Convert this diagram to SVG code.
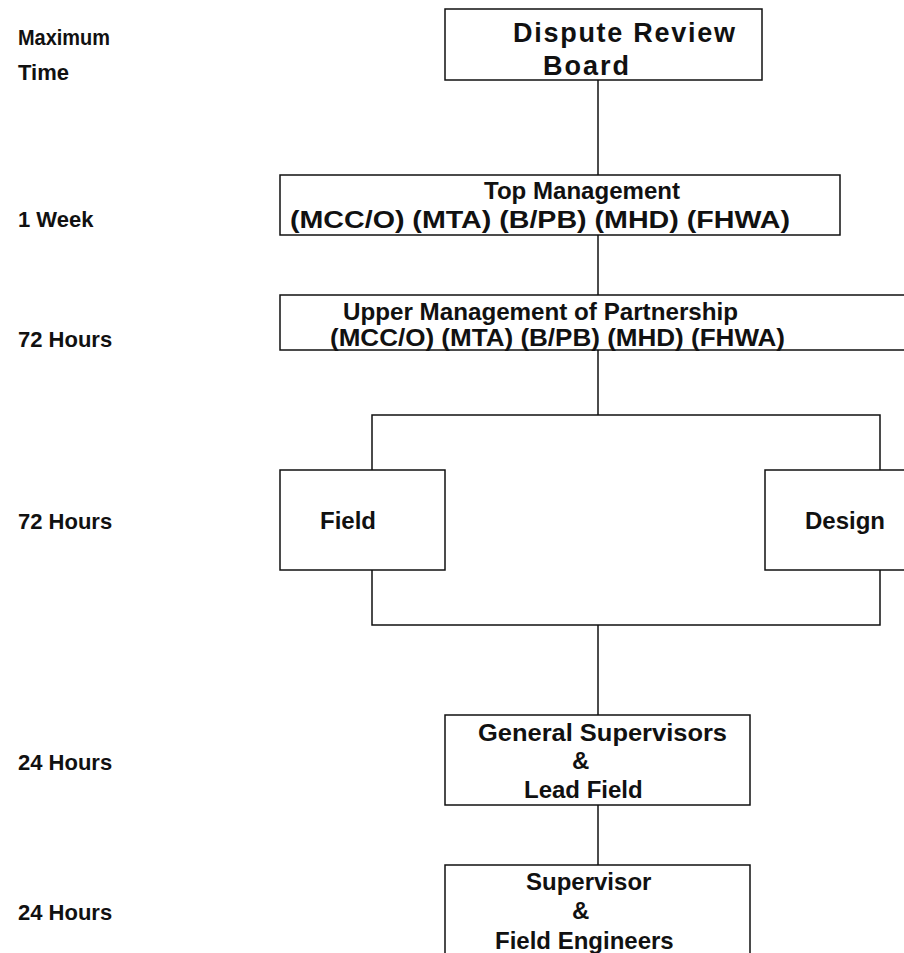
<svg xmlns="http://www.w3.org/2000/svg" width="904" height="953" viewBox="0 0 904 953">
<style>
.box{fill:#fff;stroke:#111;stroke-width:1.5}
.ln{fill:none;stroke:#111;stroke-width:1.5}
text{font-family:"Liberation Sans",Arial,sans-serif;font-weight:bold;fill:#111}
.lbl{font-size:22px}
.t{font-size:24px}
.big{font-size:27px}
</style>
<rect width="904" height="953" fill="#fff"/>
<g id="time-labels">
<text class="lbl" x="18" y="45" textLength="92" lengthAdjust="spacingAndGlyphs">Maximum</text>
<text class="lbl" x="18" y="80">Time</text>
<text class="lbl" x="18" y="227">1 Week</text>
<text class="lbl" x="18" y="347">72 Hours</text>
<text class="lbl" x="18" y="529">72 Hours</text>
<text class="lbl" x="18" y="770">24 Hours</text>
<text class="lbl" x="18" y="920">24 Hours</text>
</g>
<g id="connectors">
<line class="ln" x1="598" y1="80" x2="598" y2="175"/>
<line class="ln" x1="598" y1="235" x2="598" y2="295"/>
<line class="ln" x1="598" y1="350" x2="598" y2="415"/>
<polyline class="ln" points="372,470 372,415 880,415 880,470"/>
<polyline class="ln" points="372,570 372,625 880,625 880,570"/>
<line class="ln" x1="598" y1="625" x2="598" y2="715"/>
<line class="ln" x1="598" y1="805" x2="598" y2="865"/>
</g>
<g id="dispute-review-board">
<rect class="box" x="445" y="9" width="317" height="71"/>
<text class="big" x="513" y="42" textLength="222" lengthAdjust="spacing">Dispute Review</text>
<text class="big" x="543" y="75" textLength="86" lengthAdjust="spacing">Board</text>
</g>
<g id="top-management">
<rect class="box" x="280" y="175" width="560" height="60"/>
<text class="t" x="484" y="199" textLength="196" lengthAdjust="spacingAndGlyphs">Top Management</text>
<text class="t" x="290" y="228" textLength="500" lengthAdjust="spacingAndGlyphs">(MCC/O) (MTA) (B/PB) (MHD) (FHWA)</text>
</g>
<g id="upper-management">
<rect class="box" x="280" y="295" width="640" height="55"/>
<text class="t" x="343" y="320" textLength="395" lengthAdjust="spacingAndGlyphs">Upper Management of Partnership</text>
<text class="t" x="330" y="346" textLength="455" lengthAdjust="spacingAndGlyphs">(MCC/O) (MTA) (B/PB) (MHD) (FHWA)</text>
</g>
<g id="field">
<rect class="box" x="280" y="470" width="165" height="100"/>
<text class="t" x="320" y="529">Field</text>
</g>
<g id="design">
<rect class="box" x="765" y="470" width="150" height="100"/>
<text class="t" x="805" y="529">Design</text>
</g>
<g id="general-supervisors">
<rect class="box" x="445" y="715" width="305" height="90"/>
<text class="t" x="478" y="741" textLength="249" lengthAdjust="spacingAndGlyphs">General Supervisors</text>
<text class="t" x="572" y="769">&amp;</text>
<text class="t" x="524" y="798">Lead Field</text>
</g>
<g id="supervisor-field-engineers">
<rect class="box" x="445" y="865" width="305" height="100"/>
<text class="t" x="526" y="890">Supervisor</text>
<text class="t" x="572" y="919">&amp;</text>
<text class="t" x="495" y="949">Field Engineers</text>
</g>
</svg>
